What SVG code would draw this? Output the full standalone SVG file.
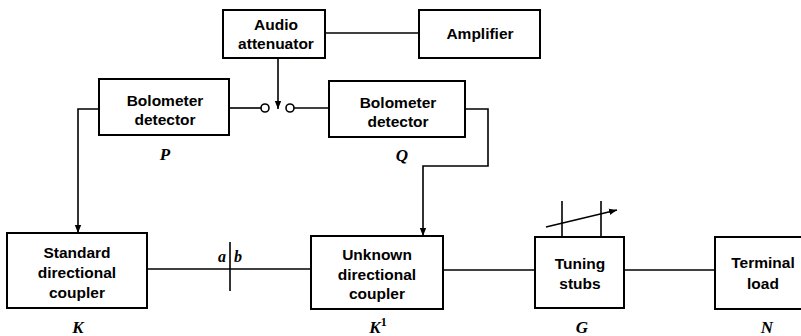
<svg xmlns="http://www.w3.org/2000/svg" width="801" height="336" viewBox="0 0 801 336">
<style>
.box{fill:#fff;stroke:#000;stroke-width:2}
.t{font-family:"Liberation Sans",Arial,sans-serif;font-weight:bold;font-size:15.5px;text-anchor:middle;fill:#000}
.lb{font-family:"Liberation Serif","Times New Roman",serif;font-weight:bold;font-style:italic;font-size:17px;text-anchor:middle;fill:#000}
.ln{fill:none;stroke:#000;stroke-width:1.6}
</style>
<defs>
<marker id="ah" viewBox="0 0 10 10" refX="10" refY="5" markerWidth="8" markerHeight="8" markerUnits="userSpaceOnUse" orient="auto">
<path d="M0,1 L10,5 L0,9 Z" fill="#000"/>
</marker>
</defs>
<rect width="801" height="336" fill="#fff"/>
<g id="connectors">
<line class="ln" x1="325" y1="33" x2="419" y2="33"/>
<line class="ln" x1="229" y1="108" x2="261" y2="108"/>
<circle class="ln" cx="265" cy="108" r="4"/>
<circle class="ln" cx="290" cy="108" r="4"/>
<line class="ln" x1="294" y1="108" x2="329" y2="108"/>
<line class="ln" x1="278" y1="58" x2="278" y2="109" marker-end="url(#ah)"/>
<polyline class="ln" points="99,109 78,109 78,233" marker-end="url(#ah)"/>
<polyline class="ln" points="465,109 488,109 488,166 423,166 423,236" marker-end="url(#ah)"/>
<line class="ln" x1="147" y1="269" x2="311" y2="269"/>
<line class="ln" x1="230" y1="242" x2="230" y2="291"/>
<line class="ln" x1="443" y1="270" x2="535" y2="270"/>
<line class="ln" x1="624" y1="270" x2="715" y2="270"/>
</g>
<g id="audio-attenuator">
<rect class="box" x="223" y="10" width="102" height="48"/>
<text class="t" x="276" y="30">Audio</text>
<text class="t" x="276" y="49">attenuator</text>
</g>
<g id="amplifier">
<rect class="box" x="419" y="10" width="121" height="48"/>
<text class="t" x="480" y="39">Amplifier</text>
</g>
<g id="bolometer-p">
<rect class="box" x="99" y="79" width="130" height="56"/>
<text class="t" x="165" y="106">Bolometer</text>
<text class="t" x="165" y="125">detector</text>
<text class="lb" x="165" y="160">P</text>
</g>
<g id="bolometer-q">
<rect class="box" x="329" y="81" width="136" height="56"/>
<text class="t" x="398" y="108">Bolometer</text>
<text class="t" x="398" y="127">detector</text>
<text class="lb" x="402" y="161">Q</text>
</g>
<g id="standard-coupler">
<rect class="box" x="7" y="233" width="140" height="75"/>
<text class="t" x="77" y="258">Standard</text>
<text class="t" x="77" y="278">directional</text>
<text class="t" x="77" y="298">coupler</text>
<text class="lb" x="78" y="333">K</text>
</g>
<g id="ab-labels">
<text class="lb" x="222" y="262" style="font-size:16px">a</text>
<text class="lb" x="238" y="262" style="font-size:16px">b</text>
</g>
<g id="unknown-coupler">
<rect class="box" x="311" y="236" width="132" height="73"/>
<text class="t" x="377" y="260">Unknown</text>
<text class="t" x="377" y="280">directional</text>
<text class="t" x="377" y="299">coupler</text>
<text class="lb" x="378" y="333">K<tspan dy="-7" font-size="12" font-style="normal">1</tspan></text>
</g>
<g id="tuning-stubs">
<rect class="box" x="535" y="237" width="89" height="71"/>
<line class="ln" x1="562" y1="201" x2="562" y2="237"/>
<line class="ln" x1="601" y1="201" x2="601" y2="237"/>
<line class="ln" x1="546" y1="227" x2="617" y2="210" stroke-width="2" marker-end="url(#ah)"/>
<text class="t" x="580" y="269">Tuning</text>
<text class="t" x="580" y="289">stubs</text>
<text class="lb" x="582" y="333">G</text>
</g>
<g id="terminal-load">
<rect class="box" x="715" y="237" width="96" height="72"/>
<text class="t" x="763" y="268">Terminal</text>
<text class="t" x="763" y="289">load</text>
<text class="lb" x="767" y="333">N</text>
</g>
</svg>
